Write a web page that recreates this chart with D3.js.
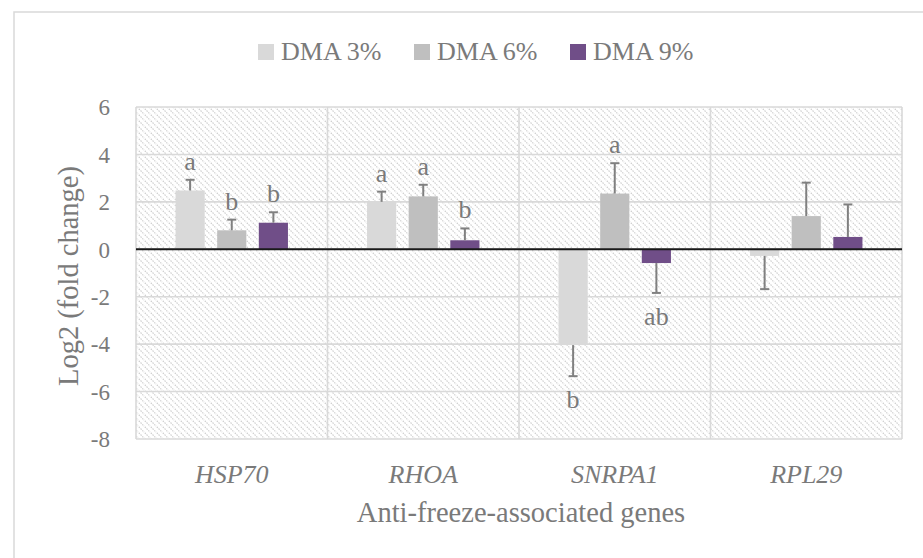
<!DOCTYPE html>
<html>
<head>
<meta charset="utf-8">
<script src="https://cdn.jsdelivr.net/npm/d3@7"></script>
<style>
  html, body { margin: 0; padding: 0; background: #fff; }
  svg { display: block; }
  text { font-family: "Liberation Serif", "DejaVu Serif", serif; fill: #7a7a7a; }
</style>
</head>
<body>
<svg id="chart" width="923" height="558"></svg>
<script>
const categories = ["HSP70", "RHOA", "SNRPA1", "RPL29"];
const seriesNames = ["DMA 3%", "DMA 6%", "DMA 9%"];
const dma3 = [2.48, 2.00, -4.04, -0.28];
const dma6 = [0.80, 2.23, 2.35, 1.40];
const dma9 = [1.12, 0.38, -0.58, 0.52];
const dma3Err = [0.45, 0.43, 1.31, 1.40];
const dma6Err = [0.45, 0.49, 1.28, 1.41];
const dma9Err = [0.44, 0.50, 1.26, 1.37];
const dma3Letters = ["a", "a", "b", ""];
const dma6Letters = ["b", "a", "a", ""];
const dma9Letters = ["b", "b", "ab", ""];
const yTicks = [-8, -6, -4, -2, 0, 2, 4, 6];
const yTickLabels = ["-8", "-6", "-4", "-2", "0", "2", "4", "6"];
const colors = ["#d9d9d9", "#bfbfbf", "#704e88"];

const seriesVals = [dma3, dma6, dma9];
const seriesErr = [dma3Err, dma6Err, dma9Err];
const seriesLetters = [dma3Letters, dma6Letters, dma9Letters];

const rows = [];
categories.forEach((c, ci) => {
  seriesNames.forEach((s, si) => {
    rows.push({cat: c, ser: s, si, v: seriesVals[si][ci], e: seriesErr[si][ci], l: seriesLetters[si][ci]});
  });
});

const svg = d3.select("#chart");
const pL = 136, pR = 902, pT = 107, pB = 439;
const FONT = '"Liberation Serif", "DejaVu Serif", serif';

// outer chart border
svg.append("rect").attr("x", 14).attr("y", 12).attr("width", 940).attr("height", 600)
  .attr("fill", "none").attr("stroke", "#d9d9d9").attr("stroke-width", 1.5);

// hatch pattern
const defs = svg.append("defs");
const pat = defs.append("pattern").attr("id", "hatch").attr("patternUnits", "userSpaceOnUse")
  .attr("width", 6).attr("height", 6);
pat.append("path").attr("d", "M-1,-1 L7,7 M-1,5 L1,7 M5,-1 L7,1")
  .attr("stroke", "#cfcfcf").attr("stroke-width", 1.2).attr("stroke-dasharray", "1.5,1");

const x0 = d3.scaleBand().domain(categories).range([pL, pR]).paddingInner(0).paddingOuter(0);
const x1 = d3.scaleBand().domain(seriesNames).range([0, x0.bandwidth()]).paddingInner(0.3).paddingOuter(0.95);
const y = d3.scaleLinear().domain([-8, 6]).range([pB, pT]);

svg.append("rect").attr("x", pL).attr("y", pT).attr("width", pR - pL).attr("height", pB - pT)
  .attr("fill", "url(#hatch)");

// horizontal gridlines
svg.append("g").selectAll("line").data(yTicks).join("line")
  .attr("x1", pL).attr("x2", pR)
  .attr("y1", d => y(d)).attr("y2", d => y(d))
  .attr("stroke", "#d9d9d9").attr("stroke-width", 1.6);

// vertical category separators
const bounds = categories.map(c => x0(c)).concat([pR]);
svg.append("g").selectAll("line").data(bounds).join("line")
  .attr("x1", d => d).attr("x2", d => d)
  .attr("y1", pT).attr("y2", pB)
  .attr("stroke", "#d9d9d9").attr("stroke-width", 1.6);

// y tick labels
const yAxis = d3.axisLeft(y).tickValues(yTicks).tickSize(0).tickPadding(0)
  .tickFormat((d, i) => yTickLabels[i]);
const yg = svg.append("g").attr("transform", `translate(110,0)`).call(yAxis)
  .attr("font-family", FONT);
yg.select(".domain").remove();
yg.selectAll("text").attr("font-size", 23).attr("fill", "#7a7a7a")
  .attr("dy", "0.34em").attr("x", 0);

// bars
svg.append("g").selectAll("rect").data(rows).join("rect")
  .attr("x", d => x0(d.cat) + x1(d.ser))
  .attr("width", x1.bandwidth())
  .attr("y", d => y(Math.max(0, d.v)))
  .attr("height", d => Math.abs(y(d.v) - y(0)))
  .attr("fill", d => colors[d.si]);

// error bars (one-sided)
const eg = svg.append("g").attr("stroke", "#808080").attr("stroke-width", 2).attr("fill", "none");
rows.forEach(d => {
  const cx = x0(d.cat) + x1(d.ser) + x1.bandwidth() / 2;
  const endV = d.v >= 0 ? d.v + d.e : d.v - d.e;
  eg.append("line").attr("x1", cx).attr("x2", cx).attr("y1", y(d.v)).attr("y2", y(endV));
  eg.append("line").attr("x1", cx - 4.5).attr("x2", cx + 4.5).attr("y1", y(endV)).attr("y2", y(endV));
});

// significance letters
svg.append("g").selectAll("text").data(rows.filter(d => d.l)).join("text")
  .attr("x", d => x0(d.cat) + x1(d.ser) + x1.bandwidth() / 2)
  .attr("y", d => d.v >= 0 ? y(d.v + d.e) - 10 : y(d.v - d.e) + 32)
  .attr("text-anchor", "middle").attr("font-size", 26)
  .text(d => d.l);

// zero line
svg.append("line").attr("x1", pL).attr("x2", pR).attr("y1", y(0)).attr("y2", y(0))
  .attr("stroke", "#1a1a1a").attr("stroke-width", 2);

// category labels
const xAxis = d3.axisBottom(x0).tickSize(0).tickPadding(0);
const xg = svg.append("g").attr("transform", `translate(0,${pB})`).call(xAxis)
  .attr("font-family", FONT);
xg.select(".domain").remove();
xg.selectAll("text").attr("font-size", 26).attr("font-style", "italic").attr("fill", "#7a7a7a")
  .attr("dy", null).attr("y", 44);

// axis titles
svg.append("text").attr("x", (pL + pR) / 2 + 2).attr("y", 522).attr("text-anchor", "middle")
  .attr("font-size", 28.5).text("Anti-freeze-associated genes");
svg.append("text").attr("transform", `translate(78,${(pT + pB) / 2 + 3}) rotate(-90)`)
  .attr("text-anchor", "middle").attr("font-size", 28.5).text("Log2 (fold change)");

// legend
const legendX = [258, 414, 570];
const lg = svg.append("g");
seriesNames.forEach((s, i) => {
  lg.append("rect").attr("x", legendX[i]).attr("y", 44).attr("width", 16).attr("height", 16).attr("fill", colors[i]);
  lg.append("text").attr("x", legendX[i] + 23).attr("y", 60).attr("font-size", 26).text(s);
});
</script>
</body>
</html>
